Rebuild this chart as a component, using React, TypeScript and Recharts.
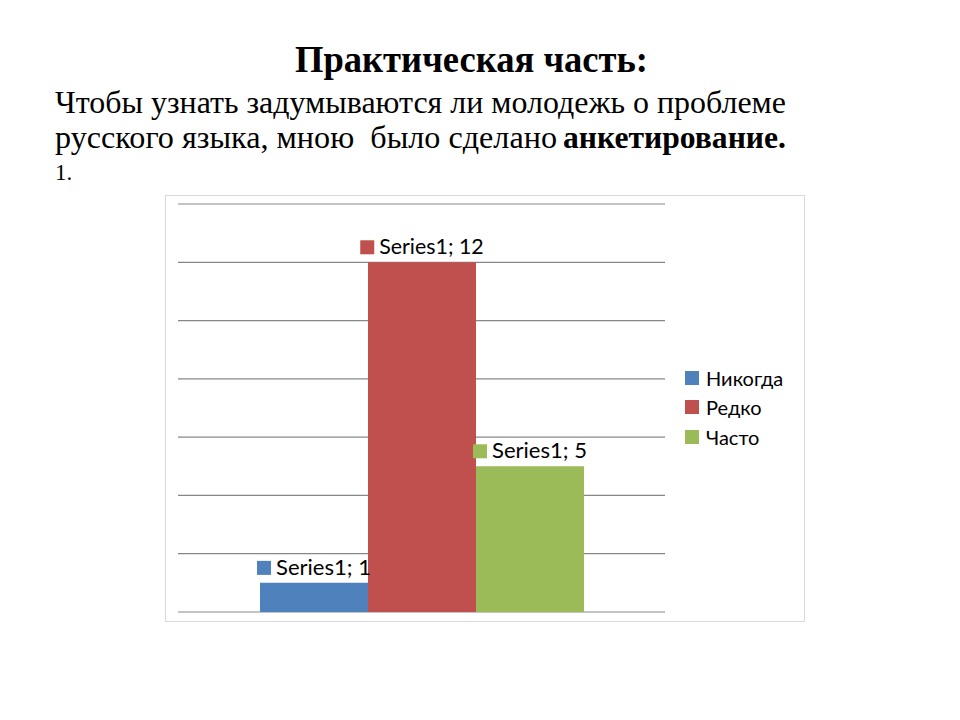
import React from 'react';
import { BarChart, Bar, XAxis, YAxis, CartesianGrid, Legend, LabelList } from 'recharts';

const SERIES_NAME = 'Series1';
const categories = ['Никогда', 'Редко', 'Часто'];
const values = [1, 12, 5];
const colors = ['#4F81BD', '#C0504D', '#9BBB59'];
const yTicks = [0, 2, 4, 6, 8, 10, 12, 14];
const keys = ['k0', 'k1', 'k2'];

const titleText = 'Практическая часть:';
const line1 = 'Чтобы узнать задумываются ли молодежь о проблеме';
const line2a = 'русского языка, мною  было сделано';
const line2b = 'анкетирование.';
const line3 = '1.';

const row: Record<string, number | string> = { name: SERIES_NAME };
categories.forEach((_c, i) => {
  row[keys[i]] = values[i];
});
const data = [row];

const LABEL_FONT = "Lato, 'Open Sans', 'Liberation Sans', sans-serif";
const SERIF = "'Liberation Serif', 'Times New Roman', serif";

const makeLabel = (color: string) => (props: any) => {
  const { x, y, width, value } = props;
  const text = `${SERIES_NAME}; ${value}`;
  const textW = text.length * 9.5;
  const sq = 14;
  const gap = 5;
  const total = sq + gap + textW;
  const cx = Number(x) + Number(width) / 2;
  const start = cx - total / 2;
  const top = Number(y);
  return (
    <g>
      <rect x={start} y={top - 22} width={sq} height={sq} fill={color} />
      <text
        x={start + sq + gap}
        y={top - 8}
        textLength={textW}
        lengthAdjust="spacingAndGlyphs"
        fontFamily={LABEL_FONT}
        fontSize={21}
        fill="#000"
      >
        {text}
      </text>
    </g>
  );
};

const renderLegend = (props: any) => {
  const payload: any[] =
    props && props.payload && props.payload.length
      ? props.payload
      : categories.map((c, i) => ({ value: c, color: colors[i] }));
  return (
    <div style={{ fontFamily: LABEL_FONT, fontSize: 20, color: '#000' }}>
      {payload.map((p: any, i: number) => (
        <div key={i} style={{ display: 'flex', alignItems: 'center', height: 29.5 }}>
          <span
            style={{
              display: 'inline-block',
              width: 14,
              height: 14,
              background: p.color,
              marginRight: 7,
            }}
          />
          <span style={{ lineHeight: '20px' }}>{p.value}</span>
        </div>
      ))}
    </div>
  );
};

export default function App() {
  return (
    <div
      style={{
        position: 'fixed',
        left: 0,
        top: 0,
        width: 960,
        height: 720,
        background: '#fff',
        overflow: 'hidden',
      }}
    >
      <svg width={960} height={200} style={{ position: 'absolute', left: 0, top: 0 }}>
        <text
          x={295}
          y={72}
          fontFamily={SERIF}
          fontWeight="bold"
          fontSize={37}
          textLength={353}
          lengthAdjust="spacingAndGlyphs"
          fill="#000"
        >
          {titleText}
        </text>
        <text
          x={55}
          y={113}
          fontFamily={SERIF}
          fontSize={32}
          textLength={731}
          lengthAdjust="spacingAndGlyphs"
          fill="#000"
        >
          {line1}
        </text>
        <text
          x={55}
          y={148}
          fontFamily={SERIF}
          fontSize={32}
          textLength={502}
          lengthAdjust="spacingAndGlyphs"
          fill="#000"
          style={{ whiteSpace: 'pre' }}
        >
          {line2a}
        </text>
        <text
          x={563}
          y={148}
          fontFamily={SERIF}
          fontWeight="bold"
          fontSize={32}
          textLength={223}
          lengthAdjust="spacingAndGlyphs"
          fill="#000"
        >
          {line2b}
        </text>
        <text x={55} y={180} fontFamily={SERIF} fontSize={23} fill="#000">
          {line3}
        </text>
      </svg>

      <div
        style={{
          position: 'absolute',
          left: 165,
          top: 195,
          width: 640,
          height: 427,
          border: '1px solid #d9d9d9',
          boxSizing: 'border-box',
        }}
      />

      <div style={{ position: 'absolute', left: 165, top: 195, width: 640, height: 427 }}>
        <BarChart
          width={640}
          height={427}
          data={data}
          margin={{ top: 9, right: 140, bottom: 10, left: 13 }}
          barGap={0}
          barSize={108}
        >
          <CartesianGrid vertical={false} stroke="#878787" strokeWidth={1.2} />
          <XAxis dataKey="name" hide />
          <YAxis hide domain={[0, 14]} ticks={yTicks} type="number" allowDataOverflow />
          {categories.map((c, i) => (
            <Bar key={keys[i]} dataKey={keys[i]} name={c} fill={colors[i]} isAnimationActive={false}>
              <LabelList dataKey={keys[i]} content={makeLabel(colors[i])} />
            </Bar>
          ))}
          <Legend
            layout="vertical"
            align="center"
            verticalAlign="middle"
            content={renderLegend}
            wrapperStyle={{ position: 'absolute', left: 520, top: 168, width: 120, height: 'auto', margin: 0 }}
          />
        </BarChart>
      </div>
    </div>
  );
}
